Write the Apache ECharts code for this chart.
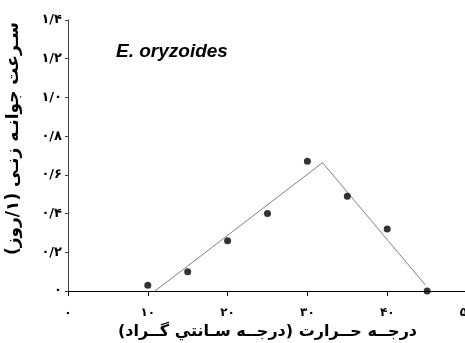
<!DOCTYPE html>
<html>
<head>
<meta charset="utf-8">
<script src="https://cdn.jsdelivr.net/npm/echarts@6/dist/echarts.min.js"></script>
<style>
  html, body { margin: 0; padding: 0; background: #fff; }
  #chart { width: 465px; height: 343px; }
</style>
</head>
<body>
<div id="chart"></div>
<script>
// observed germination rate
const tempObs = [10, 15, 20, 25, 30, 35, 40, 45];
const rateObs = [0.03, 0.10, 0.26, 0.40, 0.67, 0.49, 0.32, 0.0];

// fitted segmented model
const tempFit = [10.9, 31.9, 44.8];
const rateFit = [0.0, 0.663, 0.03];

const xTicks = [0, 10, 20, 30, 40, 50];
const xTickLabels = ['۰', '۱۰', '۲۰', '۳۰', '۴۰', '۵۰'];
const yTicks = [0, 0.2, 0.4, 0.6, 0.8, 1.0, 1.2, 1.4];
const yTickLabels = ['۰', '۰/۲', '۰/۴', '۰/۶', '۰/۸', '۱/۰', '۱/۲', '۱/۴'];

const faFont = '"DejaVu Sans", sans-serif';

const pickLabel = (ticks, labels) => (v) => {
  const i = ticks.findIndex(t => Math.abs(t - v) < 1e-6);
  return i >= 0 ? labels[i] : '';
};

const chart = echarts.init(document.getElementById('chart'));
chart.setOption({
  animation: false,
  grid: { left: 68, top: 20, bottom: 52, right: -2, outerBoundsMode: 'none', containLabel: false },
  title: {
    text: 'E. oryzoides',
    left: 111,
    top: 37,
    textStyle: {
      fontFamily: '"Liberation Sans", sans-serif',
      fontStyle: 'italic',
      fontWeight: 'bold',
      fontSize: 19,
      color: '#000'
    }
  },
  xAxis: {
    type: 'value',
    min: 0,
    max: 50,
    interval: 10,
    name: 'درجــه حــرارت (درجــه سـانتي گــراد)',
    nameLocation: 'middle',
    nameGap: 28,
    nameTextStyle: { fontFamily: faFont, fontWeight: 'bold', fontSize: 16, color: '#000' },
    axisLine: { lineStyle: { color: '#000', width: 1 } },
    axisTick: { show: true, length: 5, lineStyle: { color: '#000' } },
    axisLabel: {
      margin: 16,
      fontFamily: faFont,
      fontWeight: 'bold',
      fontSize: 12,
      color: '#000',
      showMaxLabel: true,
      formatter: pickLabel(xTicks, xTickLabels)
    },
    splitLine: { show: false }
  },
  yAxis: {
    type: 'value',
    min: 0,
    max: 1.4,
    interval: 0.2,
    name: 'سـرعت جوانـه زنـی (۱/روز)',
    nameLocation: 'middle',
    nameRotate: 90,
    nameGap: 46,
    nameTextStyle: {
      fontFamily: faFont, fontWeight: 'bold', fontSize: 17, color: '#000',
      padding: [0, 0, 0, 34]
    },
    axisLine: { show: true, lineStyle: { color: '#444', width: 1 } },
    axisTick: { show: true, length: 3, lineStyle: { color: '#444' } },
    axisLabel: {
      margin: 6,
      fontFamily: faFont,
      fontWeight: 'bold',
      fontSize: 13,
      color: '#000',
      formatter: pickLabel(yTicks, yTickLabels)
    },
    splitLine: { show: false }
  },
  series: [
    {
      type: 'line',
      data: tempFit.map((t, i) => [t, rateFit[i]]),
      symbol: 'none',
      lineStyle: { color: '#808080', width: 1 },
      z: 2
    },
    {
      type: 'scatter',
      data: tempObs.map((t, i) => [t, rateObs[i]]),
      symbol: 'circle',
      symbolSize: 7,
      itemStyle: { color: '#000' },
      z: 3
    }
  ]
});
</script>
</body>
</html>
